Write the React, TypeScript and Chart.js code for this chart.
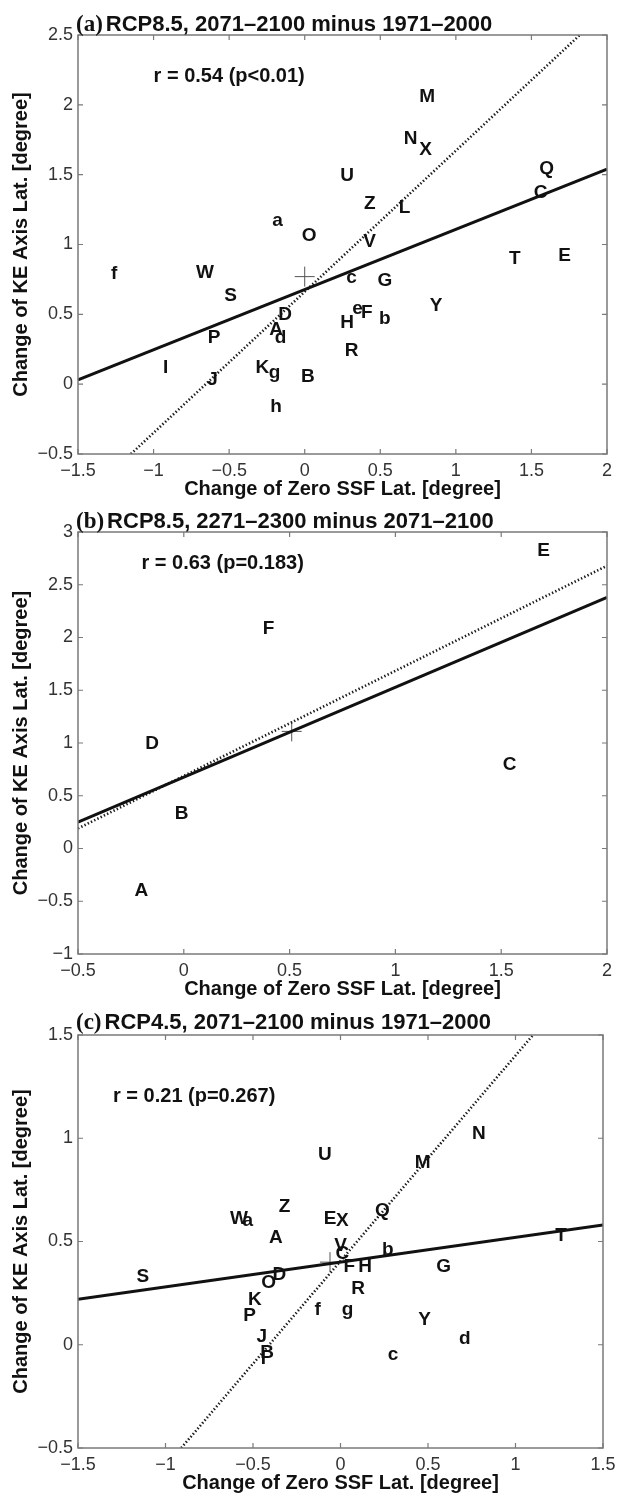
import React, { useEffect, useRef } from 'react';
import { Chart, registerables } from 'chart.js';
Chart.register(...registerables);

const SANS = '"Liberation Sans", Arial, Helvetica, sans-serif';
const SERIF = '"Liberation Serif", "Times New Roman", serif';

// ---------- Panel (a) ----------
const aLetters = ['A','B','C','D','E','F','G','H','I','J','K','L','M','N','O','P','Q','R','S','T','U','V','W','X','Y','Z','a','b','c','d','e','f','g','h'];
const aX = [-0.19, 0.02, 1.56, -0.13, 1.72, 0.41, 0.53, 0.28, -0.92, -0.61, -0.28, 0.66, 0.81, 0.70, 0.03, -0.60, 1.60, 0.31, -0.49, 1.39, 0.28, 0.43, -0.66, 0.80, 0.87, 0.43, -0.18, 0.53, 0.31, -0.16, 0.35, -1.26, -0.20, -0.19];
const aY = [0.39, 0.05, 1.37, 0.50, 0.92, 0.51, 0.74, 0.44, 0.12, 0.03, 0.12, 1.26, 2.06, 1.76, 1.06, 0.33, 1.54, 0.24, 0.63, 0.90, 1.49, 1.02, 0.80, 1.68, 0.56, 1.29, 1.17, 0.47, 0.76, 0.33, 0.54, 0.79, 0.08, -0.16];
const aMean = [0.0, 0.77];
const aSolidX = [-1.5, 2.0];
const aSolidY = [0.03, 1.54];
const aDotX = [-1.15, 1.82];
const aDotY = [-0.5, 2.5];
const aXTicks = [-1.5, -1, -0.5, 0, 0.5, 1, 1.5, 2];
const aYTicks = [-0.5, 0, 0.5, 1, 1.5, 2, 2.5];
const aTag = '(a)';
const aTitle = 'RCP8.5, 2071\u20132100 minus 1971\u20132000';
const aStat = 'r = 0.54 (p<0.01)';
const aStatPos = [-1.0, 2.2];

// ---------- Panel (b) ----------
const bLetters = ['A','B','C','D','E','F'];
const bX = [-0.20, -0.01, 1.54, -0.15, 1.70, 0.40];
const bY = [-0.40, 0.33, 0.79, 0.99, 2.82, 2.08];
const bMean = [0.51, 1.11];
const bSolidX = [-0.5, 2.0];
const bSolidY = [0.25, 2.38];
const bDotX = [-0.5, 2.0];
const bDotY = [0.19, 2.68];
const bXTicks = [-0.5, 0, 0.5, 1, 1.5, 2];
const bYTicks = [-1, -0.5, 0, 0.5, 1, 1.5, 2, 2.5, 3];
const bTag = '(b)';
const bTitle = 'RCP8.5, 2271\u20132300 minus 2071\u20132100';
const bStat = 'r = 0.63 (p=0.183)';
const bStatPos = [-0.2, 2.7];

// ---------- Panel (c) ----------
const cLetters = ['A','B','C','D','E','F','G','H','I','J','K','M','N','O','P','Q','R','S','T','U','V','W','X','Y','Z','a','b','c','d','f','g'];
const cX = [-0.37, -0.42, 0.01, -0.35, -0.06, 0.05, 0.59, 0.14, -0.44, -0.45, -0.49, 0.47, 0.79, -0.41, -0.52, 0.24, 0.10, -1.13, 1.26, -0.09, 0.00, -0.58, 0.01, 0.48, -0.32, -0.53, 0.27, 0.30, 0.71, -0.13, 0.04];
const cY = [0.52, -0.04, 0.44, 0.34, 0.61, 0.38, 0.38, 0.38, -0.07, 0.04, 0.22, 0.88, 1.02, 0.30, 0.14, 0.65, 0.27, 0.33, 0.53, 0.92, 0.48, 0.61, 0.60, 0.12, 0.67, 0.60, 0.46, -0.05, 0.03, 0.17, 0.17];
const cMean = [-0.06, 0.40];
const cSolidX = [-1.5, 1.5];
const cSolidY = [0.22, 0.58];
const cDotX = [-0.91, 1.10];
const cDotY = [-0.5, 1.5];
const cXTicks = [-1.5, -1, -0.5, 0, 0.5, 1, 1.5];
const cYTicks = [-0.5, 0, 0.5, 1, 1.5];
const cTag = '(c)';
const cTitle = 'RCP4.5, 2071\u20132100 minus 1971\u20132000';
const cStat = 'r = 0.21 (p=0.267)';
const cStatPos = [-1.3, 1.2];

const X_TITLE = 'Change of Zero SSF Lat. [degree]';
const Y_TITLE = 'Change of KE Axis Lat. [degree]';

type PanelProps = {
  letters: string[]; xs: number[]; ys: number[]; mean: number[];
  solidX: number[]; solidY: number[]; dotX: number[]; dotY: number[];
  xTicks: number[]; yTicks: number[];
  tag: string; title: string; stat: string; statPos: number[];
  height: number; padTop: number; padRight: number; xScaleH: number; xTitlePad: number; titleLift: number;
};

const fmt = (v: any) => {
  const n = Number(v);
  return (n < 0 ? '\u2212' : '') + String(Math.abs(n));
};

function Panel(p: PanelProps) {
  const ref = useRef<HTMLCanvasElement>(null);
  useEffect(() => {
    if (!ref.current) return;
    const pts = p.xs.map((x, i) => ({ x, y: p.ys[i] }));
    const lettersPlugin = {
      id: 'letters',
      afterDatasetsDraw(chart: any) {
        const ctx = chart.ctx;
        const meta = chart.getDatasetMeta(0);
        ctx.save();
        ctx.font = `bold 19px ${SANS}`;
        ctx.fillStyle = '#111';
        ctx.textAlign = 'center';
        ctx.textBaseline = 'middle';
        meta.data.forEach((el: any, i: number) => {
          ctx.fillText(p.letters[i], el.x, el.y);
        });
        const xs = chart.scales.x, ys = chart.scales.y;
        ctx.font = `bold 20px ${SANS}`;
        ctx.textAlign = 'left';
        ctx.fillText(p.stat, xs.getPixelForValue(p.statPos[0]), ys.getPixelForValue(p.statPos[1]));
        ctx.restore();
      },
    };
    const boxPlugin = {
      id: 'box',
      afterDraw(chart: any) {
        const ctx = chart.ctx;
        const a = chart.chartArea;
        const xs = chart.scales.x, ys = chart.scales.y;
        ctx.save();
        ctx.strokeStyle = '#7a7a7a';
        ctx.lineWidth = 1.5;
        ctx.strokeRect(a.left, a.top, a.right - a.left, a.bottom - a.top);
        ctx.lineWidth = 1.2;
        ctx.beginPath();
        const L = 5;
        p.xTicks.forEach((v) => {
          const x = xs.getPixelForValue(v);
          ctx.moveTo(x, a.bottom); ctx.lineTo(x, a.bottom - L);
          ctx.moveTo(x, a.top); ctx.lineTo(x, a.top + L);
        });
        p.yTicks.forEach((v) => {
          const y = ys.getPixelForValue(v);
          ctx.moveTo(a.left, y); ctx.lineTo(a.left + L, y);
          ctx.moveTo(a.right, y); ctx.lineTo(a.right - L, y);
        });
        ctx.stroke();
        // title
        const base = a.top - p.titleLift;
        ctx.fillStyle = '#111';
        ctx.textBaseline = 'alphabetic';
        ctx.textAlign = 'left';
        ctx.font = `bold 23px ${SERIF}`;
        ctx.fillText(p.tag, a.left - 2, base);
        const tw = ctx.measureText(p.tag).width;
        ctx.font = `bold 22px ${SANS}`;
        ctx.fillText(p.title, a.left - 2 + tw + 3, base);
        ctx.restore();
      },
    };
    const chart = new Chart(ref.current, {
      type: 'scatter',
      data: {
        datasets: [
          { data: pts, pointRadius: 0, pointHoverRadius: 0, showLine: false } as any,
          { data: p.solidX.map((x, i) => ({ x, y: p.solidY[i] })), showLine: true, borderColor: '#111', borderWidth: 3, pointRadius: 0 } as any,
          { data: p.dotX.map((x, i) => ({ x, y: p.dotY[i] })), showLine: true, borderColor: '#1a1a1a', borderWidth: 2.6, borderDash: [1.4, 2.2], pointRadius: 0 } as any,
          { data: [{ x: p.mean[0], y: p.mean[1] }], pointStyle: 'cross', pointRadius: 10, borderColor: '#555', borderWidth: 1, backgroundColor: 'transparent' } as any,
        ],
      },
      options: {
        animation: false,
        responsive: false,
        devicePixelRatio: 1,
        layout: { padding: { top: p.padTop, right: p.padRight, left: 0, bottom: 0 } },
        plugins: { legend: { display: false }, tooltip: { enabled: false } },
        events: [],
        scales: {
          x: {
            type: 'linear',
            min: p.xTicks[0],
            max: p.xTicks[p.xTicks.length - 1],
            afterBuildTicks: (s: any) => { s.ticks = p.xTicks.map((v) => ({ value: v })); },
            afterFit: (s: any) => { s.height = p.xScaleH; s.paddingLeft = 0; s.paddingRight = 0; },
            grid: { display: false, drawTicks: false },
            border: { display: false },
            ticks: { font: { family: SANS, size: 18 }, color: '#333', padding: 6, maxRotation: 0, autoSkip: false, callback: fmt },
            title: { display: true, text: X_TITLE, color: '#111', font: { family: SANS, size: 20, weight: 'bold' }, padding: { top: 0, bottom: p.xTitlePad } },
          },
          y: {
            type: 'linear',
            min: p.yTicks[0],
            max: p.yTicks[p.yTicks.length - 1],
            afterBuildTicks: (s: any) => { s.ticks = p.yTicks.map((v) => ({ value: v })); },
            afterFit: (s: any) => { s.width = 78; s.paddingTop = 0; s.paddingBottom = 0; },
            grid: { display: false, drawTicks: false },
            border: { display: false },
            ticks: { font: { family: SANS, size: 18 }, color: '#333', padding: 5, autoSkip: false, callback: fmt },
            title: { display: true, text: Y_TITLE, color: '#111', font: { family: SANS, size: 20, weight: 'bold' }, padding: { top: 9, bottom: 0 } },
          },
        },
      } as any,
      plugins: [lettersPlugin, boxPlugin],
    });
    return () => chart.destroy();
  }, []);
  return <canvas ref={ref} width={618} height={p.height} style={{ display: 'block', width: 618, height: p.height }} />;
}

export default function App() {
  return (
    <div style={{ position: 'absolute', left: 0, top: 0, width: 618, height: 1497, background: '#fff' }}>
      <Panel letters={aLetters} xs={aX} ys={aY} mean={aMean} solidX={aSolidX} solidY={aSolidY} dotX={aDotX} dotY={aDotY}
        xTicks={aXTicks} yTicks={aYTicks} tag={aTag} title={aTitle} stat={aStat} statPos={aStatPos}
        height={505} padTop={35} padRight={6} xScaleH={51} xTitlePad={4} titleLift={4} />
      <Panel letters={bLetters} xs={bX} ys={bY} mean={bMean} solidX={bSolidX} solidY={bSolidY} dotX={bDotX} dotY={bDotY}
        xTicks={bXTicks} yTicks={bYTicks} tag={bTag} title={bTitle} stat={bStat} statPos={bStatPos}
        height={505} padTop={27} padRight={7} xScaleH={56} xTitlePad={9} titleLift={4} />
      <Panel letters={cLetters} xs={cX} ys={cY} mean={cMean} solidX={cSolidX} solidY={cSolidY} dotX={cDotX} dotY={cDotY}
        xTicks={cXTicks} yTicks={cYTicks} tag={cTag} title={cTitle} stat={cStat} statPos={cStatPos}
        height={487} padTop={25} padRight={15} xScaleH={49} xTitlePad={2} titleLift={6} />
    </div>
  );
}
